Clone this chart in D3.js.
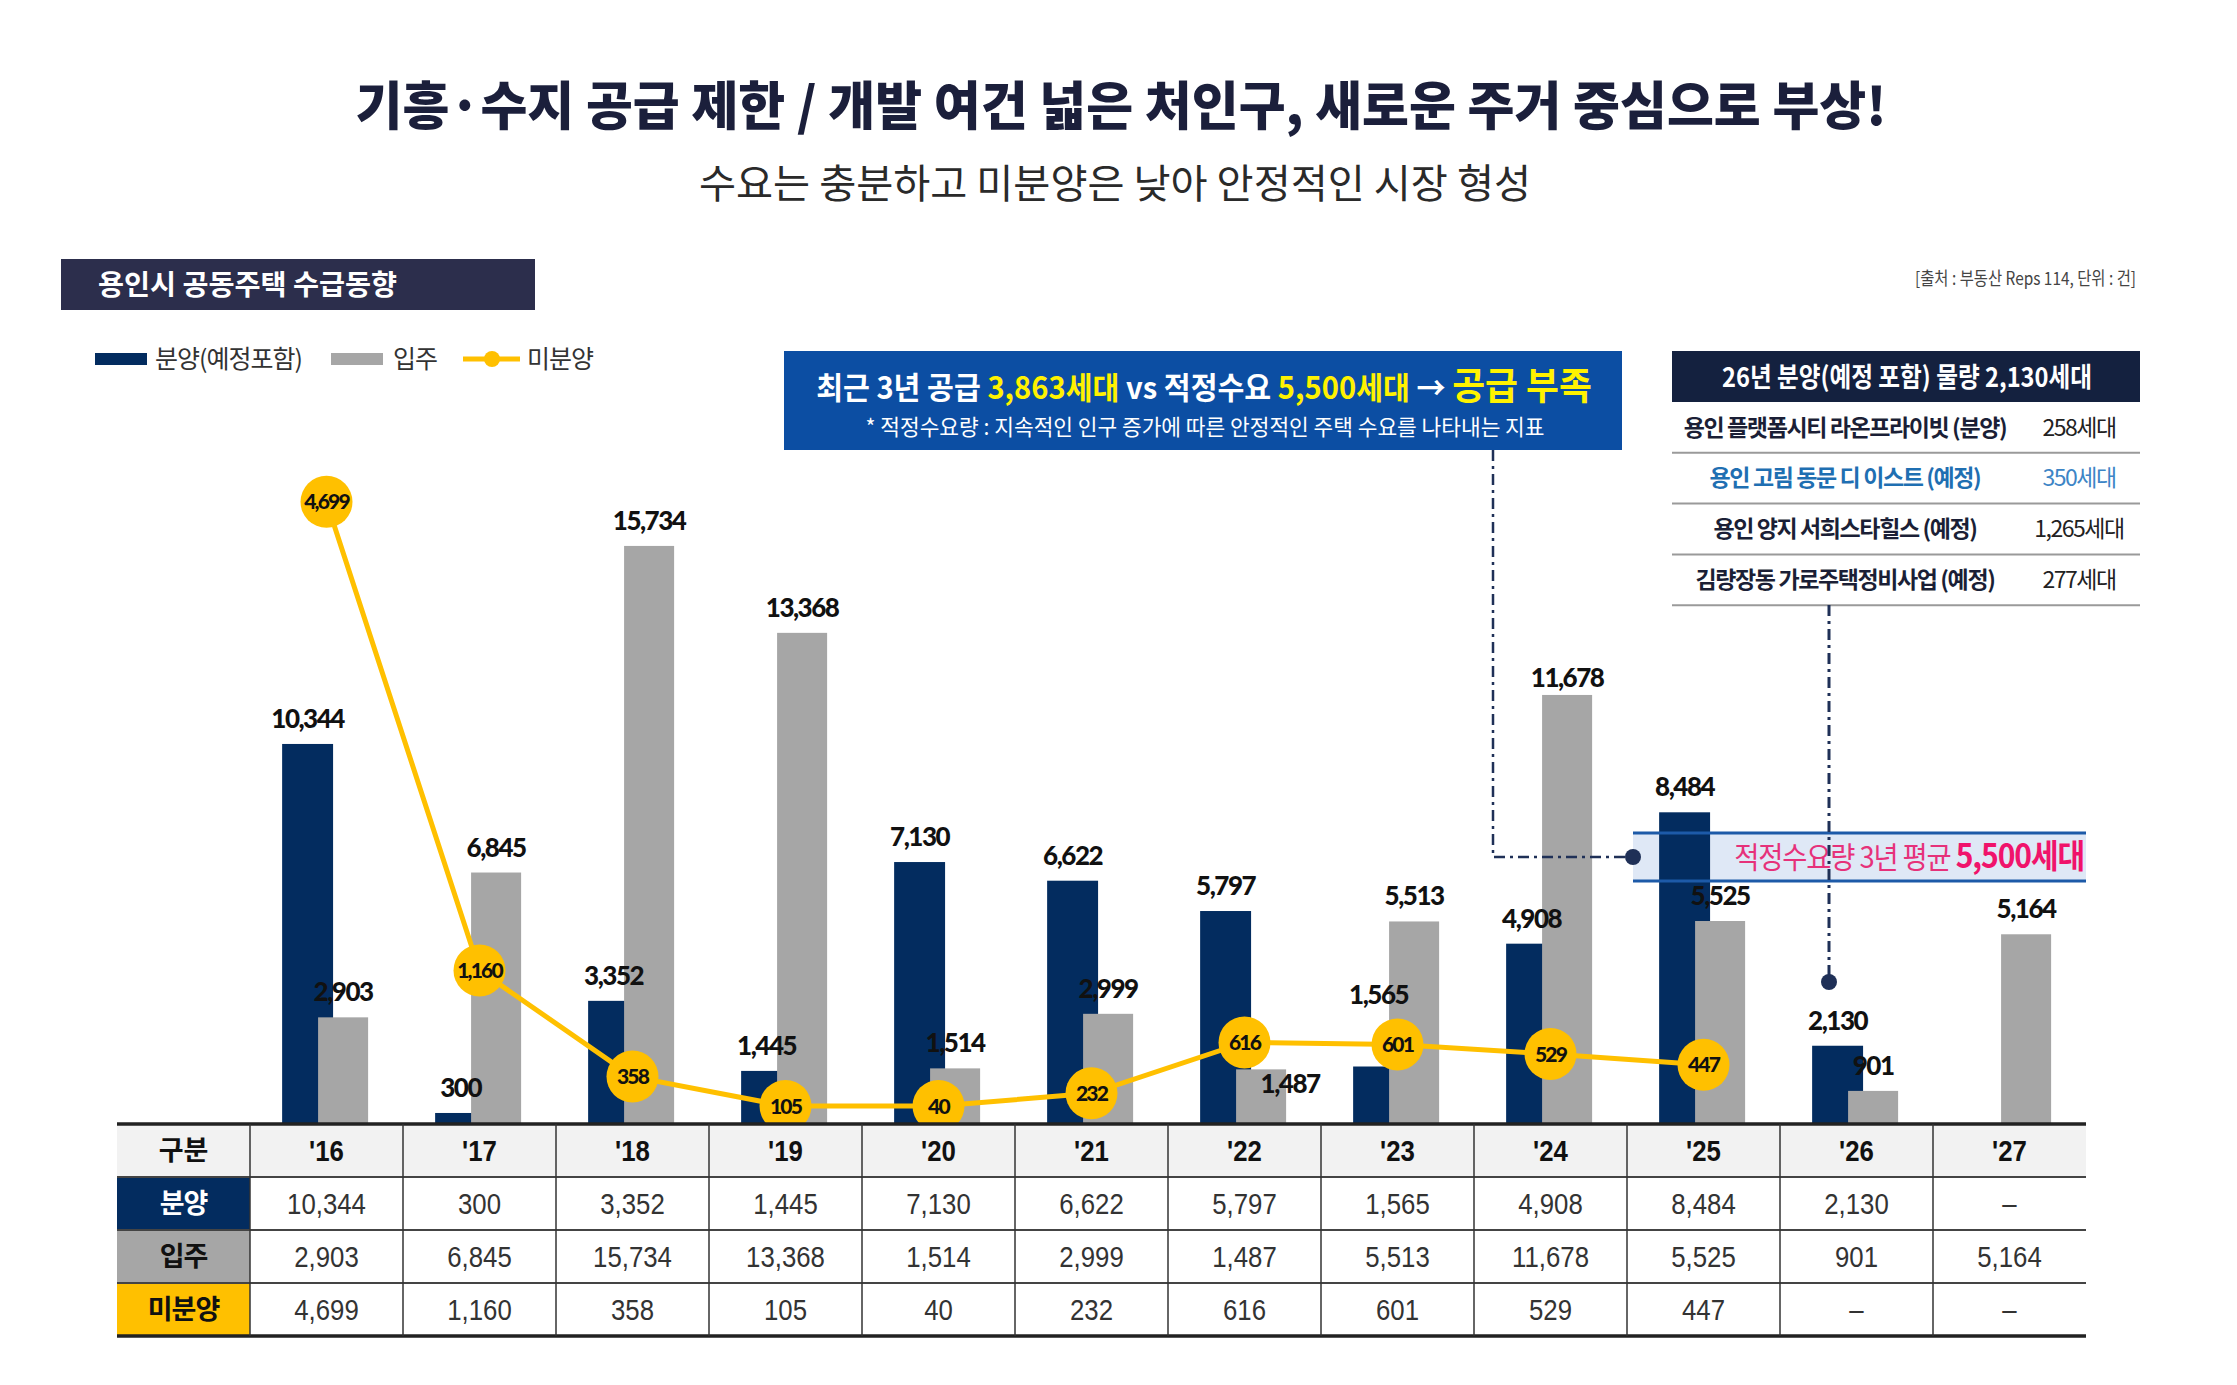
<!DOCTYPE html>
<html>
<head>
<meta charset="utf-8">
<script src="https://cdn.jsdelivr.net/npm/d3@7"></script>
<style>
  html, body { margin: 0; padding: 0; background: #fff; }
  svg { display: block; }
</style>
</head>
<body>
<div class="supply-chart"></div>
<script>
// 데이터
const years = ["'16", "'17", "'18", "'19", "'20", "'21", "'22", "'23", "'24", "'25", "'26", "'27"]
const supply = [10344, 300, 3352, 1445, 7130, 6622, 5797, 1565, 4908, 8484, 2130, null]   // 분양(예정포함)
const moveIn = [2903, 6845, 15734, 13368, 1514, 2999, 1487, 5513, 11678, 5525, 901, 5164] // 입주
const unsold = [4699, 1160, 358, 105, 40, 232, 616, 601, 529, 447, null, null]            // 미분양
const rowHeads = ["분양", "입주", "미분양"]
const legendLabels = ["분양(예정포함)", "입주", "미분양"]
const panelNames = ["용인 플랫폼시티 라온프라이빗 (분양)", "용인 고림 동문 디 이스트 (예정)", "용인 양지 서희스타힐스 (예정)", "김량장동 가로주택정비사업 (예정)"]
const panelUnits = [258, 350, 1265, 277]
const recentSupply = 3863
const properDemand = 5500
const supply26 = 2130

let width = 2237, height = 1385
let KR = "'Noto Sans CJK KR', 'Noto Sans', sans-serif"
let NUM = "Lato, 'Noto Sans', sans-serif"
let NARROW = "'Liberation Sans Narrow', 'Arial Narrow', 'Liberation Sans', sans-serif"
let fmt = d3.format(",")
let NAVY = "#032c5f", GRAY = "#a6a6a6", YELLOW = "#ffc000"

let svg = d3.select(".supply-chart").append("svg")
    .attr("width", width).attr("height", height)
svg.append("rect").attr("width", width).attr("height", height).attr("fill", "#fff")

// 글자 폭 맞추기
function fit(sel, w) {
    sel.attr("textLength", w).attr("lengthAdjust", "spacingAndGlyphs")
    return sel
}
// tspan이 있는 글자는 가로 배율로 맞춘다 (g 안에서 x=0 기준)
function fitScale(g, text, w) {
    let L = text.node().getComputedTextLength()
    let k = L > 0 ? w / L : 1
    g.attr("transform", g.attr("transform") + ` scale(${k},1)`)
}

//제목
fit(svg.append("text")
    .attr("x", 1121).attr("y", 106).attr("dy", "0.36em")
    .attr("text-anchor", "middle")
    .attr("font-family", KR).attr("font-weight", 900).attr("font-size", 52)
    .attr("fill", "#1b1f3b")
    .text("기흥·수지 공급 제한 / 개발 여건 넓은 처인구, 새로운 주거 중심으로 부상!"), 1531)
fit(svg.append("text")
    .attr("x", 1115).attr("y", 184).attr("dy", "0.36em")
    .attr("text-anchor", "middle")
    .attr("font-family", KR).attr("font-weight", 400).attr("font-size", 40)
    .attr("fill", "#2a2a2a")
    .text("수요는 충분하고 미분양은 낮아 안정적인 시장 형성"), 832)

// 소제목 박스
svg.append("rect").attr("x", 61).attr("y", 259).attr("width", 474).attr("height", 51).attr("fill", "#2c2e4c")
fit(svg.append("text")
    .attr("x", 98).attr("y", 285).attr("dy", "0.36em")
    .attr("font-family", KR).attr("font-weight", 700).attr("font-size", 28)
    .attr("fill", "#fff")
    .text("용인시 공동주택  수급동향"), 299)

// 출처
fit(svg.append("text")
    .attr("x", 2136).attr("y", 279).attr("dy", "0.36em")
    .attr("text-anchor", "end")
    .attr("font-family", KR).attr("font-size", 18).attr("fill", "#444")
    .text("[출처 : 부동산 Reps 114, 단위 : 건]"), 221)

// 범례
let legend = svg.append("g").attr("transform", "translate(0,359)")
legend.append("rect").attr("x", 95).attr("y", -6).attr("width", 52).attr("height", 12).attr("fill", NAVY)
legend.append("rect").attr("x", 331).attr("y", -6).attr("width", 52).attr("height", 12).attr("fill", GRAY)
legend.append("line").attr("x1", 463).attr("x2", 520).attr("stroke", YELLOW).attr("stroke-width", 5)
legend.append("circle").attr("cx", 492).attr("r", 8).attr("fill", YELLOW)
legend.selectAll("text.lg")
    .data(legendLabels)
    .enter()
    .append("text")
    .attr("class", "lg")
    .attr("x", (d, i) => [155, 393, 527][i])
    .attr("dy", "0.36em")
    .attr("font-family", KR).attr("font-size", 25).attr("fill", "#333")
    .attr("letter-spacing", -1)
    .text((d) => d)

// 스케일
let baseY = 1124
let x = d3.scaleBand().domain(years).range([250, 2086])
let bw = x.bandwidth()
let y = d3.scaleLinear().domain([0, 16000]).range([baseY, baseY - 16000 * 0.03674])
let y2 = d3.scaleLinear().domain([0, 5000]).range([baseY, baseY - 5000 * 0.1324])
let cx = (i) => x(years[i]) + bw / 2
let navyX = (i) => cx(i) - 0.29 * bw, navyW = 0.333 * bw
let grayX = (i) => cx(i) - 0.055 * bw, grayW = 0.327 * bw

// 적정수요 밴드(배경)
let band = { x0: 1633, x1: 2086, y0: 833, y1: 881 }
svg.append("rect").attr("x", band.x0).attr("y", band.y0)
    .attr("width", band.x1 - band.x0).attr("height", band.y1 - band.y0)
    .attr("fill", "#dfe8f6")

// 막대
let supplyData = supply.map((v, i) => ({ v, i })).filter((d) => d.v != null)
let moveData = moveIn.map((v, i) => ({ v, i })).filter((d) => d.v != null)
svg.append("g").selectAll("rect")
    .data(supplyData)
    .enter()
    .append("rect")
    .attr("x", (d) => navyX(d.i)).attr("width", navyW)
    .attr("y", (d) => y(d.v)).attr("height", (d) => baseY - y(d.v))
    .attr("fill", NAVY)
svg.append("g").selectAll("rect")
    .data(moveData)
    .enter()
    .append("rect")
    .attr("x", (d) => grayX(d.i)).attr("width", grayW)
    .attr("y", (d) => y(d.v)).attr("height", (d) => baseY - y(d.v))
    .attr("fill", GRAY)

// 겹치는 라벨은 조금 옮긴다
let nudge = { "in-6": [29, 40], "sup-7": [0, -47], "in-8": [0, 8] }
let barLabels = svg.append("g")
    .attr("font-family", NUM).attr("font-weight", 900).attr("font-size", 26)
    .attr("letter-spacing", -1.5).attr("fill", "#111").attr("text-anchor", "middle")
barLabels.selectAll("text.sup")
    .data(supplyData)
    .enter()
    .append("text")
    .attr("class", "sup")
    .attr("x", (d) => navyX(d.i) + navyW / 2 + (nudge["sup-" + d.i] || [0, 0])[0])
    .attr("y", (d) => y(d.v) - 16 + (nudge["sup-" + d.i] || [0, 0])[1])
    .text((d) => fmt(d.v))
barLabels.selectAll("text.in")
    .data(moveData)
    .enter()
    .append("text")
    .attr("class", "in")
    .attr("x", (d) => grayX(d.i) + grayW / 2 + (nudge["in-" + d.i] || [0, 0])[0])
    .attr("y", (d) => y(d.v) - 16 + (nudge["in-" + d.i] || [0, 0])[1])
    .text((d) => fmt(d.v))

// 밴드 선과 글자
svg.selectAll("line.band")
    .data([band.y0, band.y1])
    .enter()
    .append("line")
    .attr("class", "band")
    .attr("x1", band.x0).attr("x2", band.x1)
    .attr("y1", (d) => d).attr("y2", (d) => d)
    .attr("stroke", "#1d5aa8").attr("stroke-width", 3)
let bandG = svg.append("g").attr("transform", `translate(2084,${(band.y0 + band.y1) / 2})`)
let bandText = bandG.append("text")
    .attr("dy", "0.36em")
    .attr("text-anchor", "end")
    .attr("font-family", KR).attr("font-size", 30).attr("letter-spacing", -1.2)
bandText.append("tspan").attr("fill", "#e6317a").text("적정수요량 3년 평균 ")
bandText.append("tspan").attr("fill", "#f0136b").attr("font-weight", 700).attr("font-size", 33)
    .text(fmt(properDemand) + "세대")
fitScale(bandG, bandText, 350)

// 미분양 꺾은선
let unsoldData = unsold.map((v, i) => ({ v, i })).filter((d) => d.v != null)
let cy = (d) => Math.min(y2(d.v), baseY - 18)
svg.append("path")
    .datum(unsoldData)
    .attr("fill", "none")
    .attr("stroke", YELLOW).attr("stroke-width", 5)
    .attr("d", d3.line().x((d) => cx(d.i)).y(cy))
let dots = svg.append("g")
dots.selectAll("circle")
    .data(unsoldData)
    .enter()
    .append("circle")
    .attr("cx", (d) => cx(d.i)).attr("cy", cy)
    .attr("r", 26)
    .attr("fill", YELLOW)
dots.selectAll("text")
    .data(unsoldData)
    .enter()
    .append("text")
    .attr("x", (d) => cx(d.i)).attr("y", cy).attr("dy", "0.36em")
    .attr("text-anchor", "middle")
    .attr("font-family", NUM).attr("font-weight", 900).attr("font-size", 21)
    .attr("letter-spacing", -1.8).attr("fill", "#111")
    .text((d) => fmt(d.v))

// 파란 설명 박스
svg.append("rect").attr("x", 784).attr("y", 351).attr("width", 838).attr("height", 99).attr("fill", "#0c4ea3")
let c1g = svg.append("g").attr("transform", "translate(1204,388)")
let c1 = c1g.append("text")
    .attr("dy", "0.36em")
    .attr("text-anchor", "middle")
    .attr("font-family", KR).attr("font-weight", 700).attr("font-size", 31)
    .attr("fill", "#fff")
c1.append("tspan").text("최근 3년 공급 ")
c1.append("tspan").attr("fill", "#fff200").text(fmt(recentSupply) + "세대")
c1.append("tspan").text(" vs 적정수요 ")
c1.append("tspan").attr("fill", "#fff200").text(fmt(properDemand) + "세대")
c1.append("tspan").text(" → ")
c1.append("tspan").attr("fill", "#fff200").attr("font-size", 38).text("공급 부족")
fitScale(c1g, c1, 776)
fit(svg.append("text")
    .attr("x", 1205).attr("y", 427).attr("dy", "0.36em")
    .attr("text-anchor", "middle")
    .attr("font-family", KR).attr("font-size", 22).attr("fill", "#fff")
    .text("* 적정수요량 : 지속적인 인구 증가에 따른 안정적인 주택 수요를 나타내는 지표"), 679)

// 오른쪽 26년 표
let panel = svg.append("g")
panel.append("rect").attr("x", 1672).attr("y", 351).attr("width", 468).attr("height", 51).attr("fill", "#14213f")
fit(panel.append("text")
    .attr("x", 1907).attr("y", 377).attr("dy", "0.36em")
    .attr("text-anchor", "middle")
    .attr("font-family", KR).attr("font-weight", 700).attr("font-size", 27).attr("fill", "#fff")
    .text("26년 분양(예정 포함) 물량 " + fmt(supply26) + "세대"), 370)
let rowH = 50.8
let rows = panel.selectAll("g.row")
    .data(panelNames)
    .enter()
    .append("g")
    .attr("class", "row")
    .attr("transform", (d, i) => `translate(0,${402 + i * rowH})`)
rows.append("line")
    .attr("x1", 1672).attr("x2", 2140)
    .attr("y1", rowH).attr("y2", rowH)
    .attr("stroke", "#9a9a9a").attr("stroke-width", 2)
rows.append("text")
    .attr("x", 1845).attr("y", rowH / 2).attr("dy", "0.36em")
    .attr("text-anchor", "middle")
    .attr("font-family", KR).attr("font-weight", 700).attr("font-size", 23)
    .attr("letter-spacing", -1.4)
    .attr("fill", (d, i) => i == 1 ? "#1f6fb2" : "#1b1f36")
    .text((d) => d)
rows.append("text")
    .attr("x", 2079).attr("y", rowH / 2).attr("dy", "0.36em")
    .attr("text-anchor", "middle")
    .attr("font-family", KR).attr("font-size", 23)
    .attr("letter-spacing", -1.5)
    .attr("fill", (d, i) => i == 1 ? "#3d85c6" : "#222")
    .text((d, i) => fmt(panelUnits[i]) + "세대")

// 점선 연결선
let dash = "11,5,3,5"
svg.append("path")
    .attr("d", `M1493,450 V857 H1633`)
    .attr("fill", "none").attr("stroke", "#1f3057").attr("stroke-width", 2.5)
    .attr("stroke-dasharray", dash)
svg.append("circle").attr("cx", 1633).attr("cy", 857).attr("r", 8).attr("fill", "#1f3057")
svg.append("path")
    .attr("d", `M1829,605 V981`)
    .attr("fill", "none").attr("stroke", "#1f3057").attr("stroke-width", 3)
    .attr("stroke-dasharray", dash)
svg.append("circle").attr("cx", 1829).attr("cy", 982).attr("r", 8).attr("fill", "#1f3057")

// 아래 표
let tableLeft = 117, headW = 250 - 117, tRowH = 53
let table = svg.append("g")
// 머리줄 배경
table.append("rect").attr("x", tableLeft).attr("y", baseY).attr("width", 2086 - tableLeft).attr("height", tRowH).attr("fill", "#f2f2f2")
table.selectAll("rect.head")
    .data(rowHeads)
    .enter()
    .append("rect")
    .attr("class", "head")
    .attr("x", tableLeft).attr("y", (d, i) => baseY + (i + 1) * tRowH)
    .attr("width", headW).attr("height", tRowH)
    .attr("fill", (d, i) => [NAVY, GRAY, YELLOW][i])
table.append("text")
    .attr("x", tableLeft + headW / 2).attr("y", baseY + tRowH / 2).attr("dy", "0.36em")
    .attr("text-anchor", "middle")
    .attr("font-family", KR).attr("font-weight", 700).attr("font-size", 27).attr("fill", "#111")
    .text("구분")
table.selectAll("text.head")
    .data(rowHeads)
    .enter()
    .append("text")
    .attr("class", "head")
    .attr("x", tableLeft + headW / 2).attr("y", (d, i) => baseY + (i + 1.5) * tRowH).attr("dy", "0.36em")
    .attr("text-anchor", "middle")
    .attr("font-family", KR).attr("font-weight", 700).attr("font-size", 27)
    .attr("letter-spacing", -1)
    .attr("fill", (d, i) => i == 0 ? "#fff" : "#111")
    .text((d) => d)
// 좁은 글꼴 대신 가로로 줄인다
table.selectAll("text.year")
    .data(years)
    .enter()
    .append("text")
    .attr("class", "year")
    .attr("transform", (d) => `translate(${x(d) + bw / 2},${baseY + tRowH / 2}) scale(0.86,1)`)
    .attr("dy", "0.36em")
    .attr("text-anchor", "middle")
    .attr("font-family", NARROW).attr("font-weight", 700).attr("font-size", 30)
    .attr("fill", "#111")
    .text((d) => d)
let cells = [supply, moveIn, unsold]
cells.forEach((arr, r) => {
    table.append("g").selectAll("text")
        .data(arr)
        .enter()
        .append("text")
        .attr("transform", (d, i) => `translate(${cx(i)},${baseY + (r + 1.5) * tRowH}) scale(0.86,1)`)
        .attr("dy", "0.36em")
        .attr("text-anchor", "middle")
        .attr("font-family", NARROW).attr("font-size", 30)
        .attr("fill", "#333")
        .text((d) => d == null ? "–" : fmt(d))
})
// 표 선
table.selectAll("line.h")
    .data([0, 1, 2, 3, 4])
    .enter()
    .append("line")
    .attr("class", "h")
    .attr("x1", tableLeft).attr("x2", 2086)
    .attr("y1", (d) => baseY + d * tRowH).attr("y2", (d) => baseY + d * tRowH)
    .attr("stroke", (d) => d == 0 || d == 4 ? "#222" : "#444")
    .attr("stroke-width", (d) => d == 0 || d == 4 ? 3.5 : 2)
table.selectAll("line.v")
    .data(years)
    .enter()
    .append("line")
    .attr("class", "v")
    .attr("x1", (d) => x(d)).attr("x2", (d) => x(d))
    .attr("y1", baseY).attr("y2", baseY + 4 * tRowH)
    .attr("stroke", "#333").attr("stroke-width", 1.5)
</script>
</body>
</html>
